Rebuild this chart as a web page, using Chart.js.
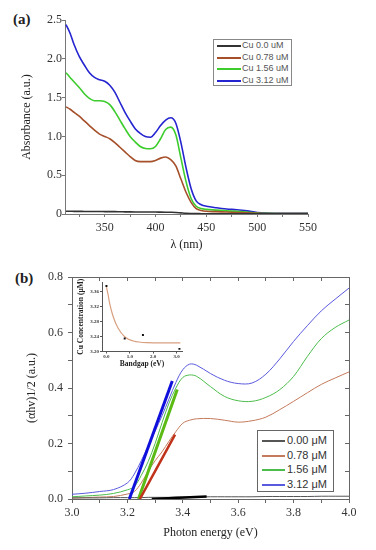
<!DOCTYPE html>
<html><head><meta charset="utf-8">
<script src="https://cdn.jsdelivr.net/npm/chart.js@4.4.1/dist/chart.umd.min.js"></script>
<style>
html,body{margin:0;padding:0;background:#fff;width:376px;height:550px;overflow:hidden;}
.box{position:absolute;}
canvas{display:block;}
.lbl{position:absolute;font-family:"Liberation Serif","Times New Roman",serif;font-weight:bold;font-size:15px;color:#222;line-height:1;}
.legend{position:absolute;background:#fff;box-sizing:border-box;font-family:"Liberation Sans",Arial,sans-serif;}
.legend .row{position:absolute;left:0;height:12px;white-space:nowrap;}
.legend .sw{position:absolute;left:0;top:6px;height:0;}
.legend .tx{position:absolute;top:0;line-height:12px;}
</style>
</head><body>
<div class="lbl" style="left:13px;top:12px;">(a)</div>
<div class="lbl" style="left:15px;top:271px;">(b)</div>
<div class="box" style="left:0;top:0;width:376px;height:260px;"><canvas id="ca" width="376" height="260"></canvas></div>
<div class="box" style="left:0;top:250px;width:376px;height:300px;"><canvas id="cb" width="376" height="300"></canvas></div>
<div class="box" style="left:60px;top:270px;width:140px;height:105px;"><canvas id="ci" width="140" height="105"></canvas></div>
<div id="legA" class="legend" style="left:213px;top:39px;width:79px;height:47px;border:1px solid #888;"></div>
<div id="legB" class="legend" style="left:257px;top:430px;width:77px;height:62px;border:1px solid #666;"></div>
<script>
// ---------- (a) absorbance spectra ----------
const aWavelength = [312,316,320,325,330,335,340,345,350,355,360,365,370,375,380,385,390,395,400,405,410,415,420,425,430,435,440,445,450,460,470,480,490,500,510,520,530,540,550];
const aCu000 = [0.035,0.035,0.034,0.034,0.033,0.033,0.032,0.032,0.031,0.03,0.03,0.029,0.028,0.027,0.026,0.025,0.025,0.025,0.025,0.024,0.023,0.022,0.02,0.015,0.01,0.007,0.005,0.004,0.003,0.003,0.003,0.003,0.003,0.003,0.003,0.003,0.003,0.003,0.003];
const aCu078 = [1.38,1.35,1.31,1.26,1.2,1.14,1.08,1.03,1.0,0.97,0.92,0.86,0.8,0.74,0.69,0.675,0.675,0.675,0.69,0.72,0.735,0.7,0.62,0.45,0.28,0.15,0.07,0.045,0.035,0.03,0.025,0.02,0.015,0.01,0.006,0.005,0.005,0.005,0.005];
const aCu156 = [1.82,1.76,1.7,1.63,1.55,1.49,1.46,1.46,1.45,1.41,1.32,1.21,1.1,1.0,0.93,0.87,0.845,0.84,0.87,0.97,1.09,1.12,1.02,0.72,0.42,0.2,0.1,0.07,0.06,0.05,0.04,0.035,0.025,0.012,0.008,0.007,0.007,0.007,0.007];
const aCu312 = [2.44,2.33,2.18,2.03,1.92,1.82,1.76,1.73,1.71,1.66,1.57,1.44,1.31,1.2,1.1,1.04,1.0,0.99,1.05,1.14,1.21,1.24,1.17,0.92,0.6,0.33,0.17,0.12,0.1,0.08,0.065,0.055,0.04,0.02,0.012,0.01,0.008,0.008,0.008];
const aXTicks = [325,350,375,400,425,450,475,500,525,550];
const aXLabels = [350,400,450,500,550];
const aYTicks = [0,0.5,1,1.5,2,2.5];
const aYLabels = ['0','0.5','1.0','1.5','2.0','2.5'];

// ---------- (b) Tauc plot ----------
const bEnergy = [3.0,3.05,3.1,3.15,3.2,3.225,3.25,3.275,3.3,3.325,3.35,3.375,3.4,3.425,3.45,3.5,3.55,3.6,3.65,3.7,3.75,3.8,3.85,3.9,3.95,4.0];
const bCu000 = [0.004,0.004,0.004,0.005,0.005,0.005,0.005,0.006,0.006,0.006,0.006,0.007,0.007,0.007,0.007,0.008,0.008,0.008,0.008,0.009,0.009,0.009,0.009,0.01,0.01,0.01];
const bCu078 = [0.003,0.005,0.007,0.009,0.018,0.027,0.058,0.1,0.138,0.17,0.208,0.243,0.273,0.284,0.289,0.29,0.284,0.277,0.282,0.295,0.322,0.352,0.383,0.413,0.436,0.458];
const bCu156 = [0.008,0.011,0.014,0.02,0.033,0.045,0.085,0.135,0.2,0.275,0.345,0.4,0.438,0.447,0.442,0.405,0.37,0.354,0.352,0.366,0.394,0.442,0.514,0.578,0.618,0.645];
const bCu312 = [0.017,0.021,0.027,0.034,0.058,0.09,0.138,0.19,0.245,0.3,0.36,0.42,0.466,0.486,0.482,0.452,0.428,0.416,0.418,0.45,0.505,0.568,0.625,0.678,0.72,0.76];
// linear fits (x pairs, y pairs)
const bFit000X = [3.288,3.486], bFit000Y = [0.0,0.009];
const bFit078X = [3.245,3.372], bFit078Y = [0.0,0.232];
const bFit156X = [3.24,3.38],   bFit156Y = [0.0,0.395];
const bFit312X = [3.207,3.362], bFit312Y = [0.0,0.425];
const bXTicks = [3.0,3.1,3.2,3.3,3.4,3.5,3.6,3.7,3.8,3.9,4.0];
const bXLabels = [3.0,3.2,3.4,3.6,3.8,4.0];
const bYTicks = [0,0.1,0.2,0.3,0.4,0.5,0.6,0.7,0.8];
const bYLabels = [0,0.2,0.4,0.6,0.8];

// ---------- inset ----------
const iBandgap = [0,0.78,1.56,3.12];
const iConc = [3.375,3.235,3.244,3.207];
const iFitX = [0,0.07,0.14,0.29,0.5,0.79,1.15,1.72,2.4,3.16];
const iFitY = [3.372,3.352,3.328,3.293,3.262,3.239,3.228,3.2235,3.223,3.223];
const iXTicks = [0,1,2,3];
const iYTicks = [3.20,3.24,3.28,3.32,3.36];

const xy = (xs, ys) => xs.map((x,i)=>({x:x, y:ys[i]}));
const SERIF = '"Liberation Serif","Times New Roman",serif';
const setTicks = arr => (s => { s.ticks = arr.map(v=>({value:v})); });

// ===== chart (a) =====
const chartA = new Chart(document.getElementById('ca'), {
  type:'line',
  data:{datasets:[
    {label:'Cu 0.0 uM', data:xy(aWavelength,aCu000), borderColor:'#333333', borderWidth:1.6, legend:true},
    {label:'Cu 0.78 uM', data:xy(aWavelength,aCu078), borderColor:'#a5502a', borderWidth:1.6, legend:true},
    {label:'Cu 1.56 uM', data:xy(aWavelength,aCu156), borderColor:'#3ccc2c', borderWidth:1.6, legend:true},
    {label:'Cu 3.12 uM', data:xy(aWavelength,aCu312), borderColor:'#2424d0', borderWidth:1.6, legend:true}
  ]},
  options:{
    responsive:false, animation:false,
    layout:{padding:{left:0,right:68,top:20,bottom:0}},
    elements:{point:{radius:0}, line:{cubicInterpolationMode:'monotone', fill:false}},
    plugins:{legend:{display:false}, tooltip:{enabled:false}},
    scales:{
      x:{type:'linear', min:311, max:550,
        afterBuildTicks:setTicks(aXTicks),
        afterFit:s=>{s.height=46;},
        ticks:{autoSkip:false, maxRotation:0, padding:4, color:'#333', font:{family:SERIF,size:12},
          callback:v=> aXLabels.includes(v) ? String(v) : ''},
        grid:{drawOnChartArea:false, drawTicks:true, tickLength:3, color:'#777'},
        border:{color:'#777', width:1},
        title:{display:true, text:'λ (nm)', color:'#222', font:{family:SERIF,size:12}, padding:{top:0,bottom:8}}
      },
      y:{type:'linear', min:0, max:2.5,
        afterBuildTicks:setTicks(aYTicks),
        afterFit:s=>{s.width=65;},
        ticks:{padding:0, color:'#333', font:{family:SERIF,size:12},
          callback:v=> aYLabels[aYTicks.indexOf(v)]},
        grid:{drawOnChartArea:false, drawTicks:true, tickLength:3, color:'#777'},
        border:{color:'#777', width:1},
        title:{display:true, text:'Absorbance (a.u.)', color:'#222', font:{family:SERIF,size:12}, padding:{top:20,bottom:0}}
      }
    }
  }
});

// ===== chart (b) =====
const chartB = new Chart(document.getElementById('cb'), {
  type:'line',
  data:{datasets:[
    {label:'0.00 μM', data:xy(bEnergy,bCu000), borderColor:'#555555', borderWidth:1, legend:true, order:5},
    {label:'0.78 μM', data:xy(bEnergy,bCu078), borderColor:'#c47a5c', borderWidth:1, legend:true, order:6},
    {label:'1.56 μM', data:xy(bEnergy,bCu156), borderColor:'#4cbc4c', borderWidth:1, legend:true, order:7},
    {label:'3.12 μM', data:xy(bEnergy,bCu312), borderColor:'#5a5ade', borderWidth:1, legend:true, order:8},
    {data:xy(bFit000X,bFit000Y), borderColor:'#000000', borderWidth:2.5, order:1},
    {data:xy(bFit078X,bFit078Y), borderColor:'#c0331a', borderWidth:2.5, order:2},
    {data:xy(bFit156X,bFit156Y), borderColor:'#5cba14', borderWidth:3, order:3},
    {data:xy(bFit312X,bFit312Y), borderColor:'#1010dc', borderWidth:3, order:4}
  ]},
  options:{
    responsive:false, animation:false,
    layout:{padding:{left:0,right:23,top:23,bottom:0}},
    elements:{point:{radius:0}, line:{tension:0.35, fill:false}},
    plugins:{legend:{display:false}, tooltip:{enabled:false}},
    scales:{
      x:{type:'linear', min:3, max:4,
        afterBuildTicks:setTicks(bXTicks),
        afterFit:s=>{s.height=51;},
        ticks:{autoSkip:false, maxRotation:0, padding:3, color:'#333', font:{family:SERIF,size:12},
          callback:v=> bXLabels.includes(v) ? v.toFixed(1) : ''},
        grid:{drawOnChartArea:false, drawTicks:true, tickLength:4, color:'#666'},
        border:{color:'#666', width:1},
        title:{display:true, text:'Photon energy (eV)', color:'#222', font:{family:SERIF,size:12}, padding:{top:0,bottom:10}}
      },
      x2:{type:'linear', position:'top', min:3, max:4,
        afterBuildTicks:setTicks(bXTicks),
        afterFit:s=>{s.height=4;},
        ticks:{display:false},
        grid:{drawOnChartArea:false, drawTicks:true, tickLength:-4, color:'#666'},
        border:{color:'#666', width:1}
      },
      y:{type:'linear', min:0, max:0.8,
        afterBuildTicks:setTicks(bYTicks),
        afterFit:s=>{s.width=72;},
        ticks:{padding:5, color:'#333', font:{family:SERIF,size:12},
          callback:v=> bYLabels.includes(v) ? v.toFixed(1) : ''},
        grid:{drawOnChartArea:false, drawTicks:true, tickLength:4, color:'#666'},
        border:{color:'#666', width:1},
        title:{display:true, text:'(αhv)1/2 (a.u.)', color:'#222', font:{family:SERIF,size:12}, padding:{top:25,bottom:0}}
      },
      y2:{type:'linear', position:'right', min:0, max:0.8,
        afterBuildTicks:setTicks(bYTicks),
        afterFit:s=>{s.width=4;},
        ticks:{display:false},
        grid:{drawOnChartArea:false, drawTicks:true, tickLength:-4, color:'#666'},
        border:{color:'#666', width:1}
      }
    }
  }
});

// ===== inset =====
const chartI = new Chart(document.getElementById('ci'), {
  type:'line',
  data:{datasets:[
    {data:xy(iBandgap,iConc), showLine:false, pointStyle:'rect', pointRadius:1.4, pointBackgroundColor:'#111', pointBorderColor:'#111', pointBorderWidth:0, order:1},
    {data:xy(iFitX,iFitY), borderColor:'#d9a080', borderWidth:1.2, pointRadius:0, cubicInterpolationMode:'monotone', order:2}
  ]},
  options:{
    responsive:false, animation:false,
    layout:{padding:{left:0,right:18,top:12,bottom:0}},
    plugins:{legend:{display:false}, tooltip:{enabled:false}},
    scales:{
      x:{type:'linear', min:-0.19, max:3.23,
        afterBuildTicks:setTicks(iXTicks),
        afterFit:s=>{s.height=23.5;},
        ticks:{autoSkip:false, maxRotation:0, padding:0, color:'#333', font:{family:SERIF,size:5,weight:'bold'},
          callback:v=> v.toFixed(1)},
        grid:{drawOnChartArea:false, drawTicks:true, tickLength:2, color:'#555'},
        border:{color:'#555', width:1},
        title:{display:true, text:'Bandgap (eV)', color:'#222', font:{family:SERIF,size:7.5,weight:'bold'}, padding:{top:0,bottom:6}}
      },
      y:{type:'linear', min:3.20, max:3.386,
        afterBuildTicks:setTicks(iYTicks),
        afterFit:s=>{s.width=42;},
        ticks:{padding:1, color:'#333', font:{family:SERIF,size:5,weight:'bold'},
          callback:v=> v.toFixed(2)},
        grid:{drawOnChartArea:false, drawTicks:true, tickLength:2, color:'#555'},
        border:{color:'#555', width:1},
        title:{display:true, text:'Cu Concentration (μM)', color:'#222', font:{family:SERIF,size:7.5,weight:'bold'}, padding:{top:17,bottom:0}}
      }
    }
  }
});

// ===== HTML legends built from chart datasets =====
function buildLegend(el, chart, cfg){
  let k = 0;
  chart.data.datasets.forEach(ds=>{
    if(!ds.legend) return;
    const row = document.createElement('div');
    row.className = 'row';
    row.style.top = (cfg.first + k*cfg.step - 6) + 'px';
    row.style.left = cfg.left + 'px';
    row.style.width = '70px';
    const sw = document.createElement('div');
    sw.className = 'sw';
    sw.style.width = cfg.sw + 'px';
    sw.style.borderTop = cfg.lw + 'px solid ' + ds.borderColor;
    const tx = document.createElement('div');
    tx.className = 'tx';
    tx.style.left = (cfg.sw + cfg.gap) + 'px';
    tx.textContent = ds.label;
    tx.style.fontSize = cfg.fs + 'px';
    tx.style.color = cfg.color;
    row.appendChild(sw); row.appendChild(tx);
    el.appendChild(row);
    k++;
  });
}
buildLegend(document.getElementById('legA'), chartA, {first:5, step:11.5, left:3, sw:24, lw:2, gap:1, fs:9, color:'#555'});
buildLegend(document.getElementById('legB'), chartB, {first:9, step:14.5, left:4, sw:23, lw:2, gap:2, fs:11, color:'#333'});
</script>
</body></html>
